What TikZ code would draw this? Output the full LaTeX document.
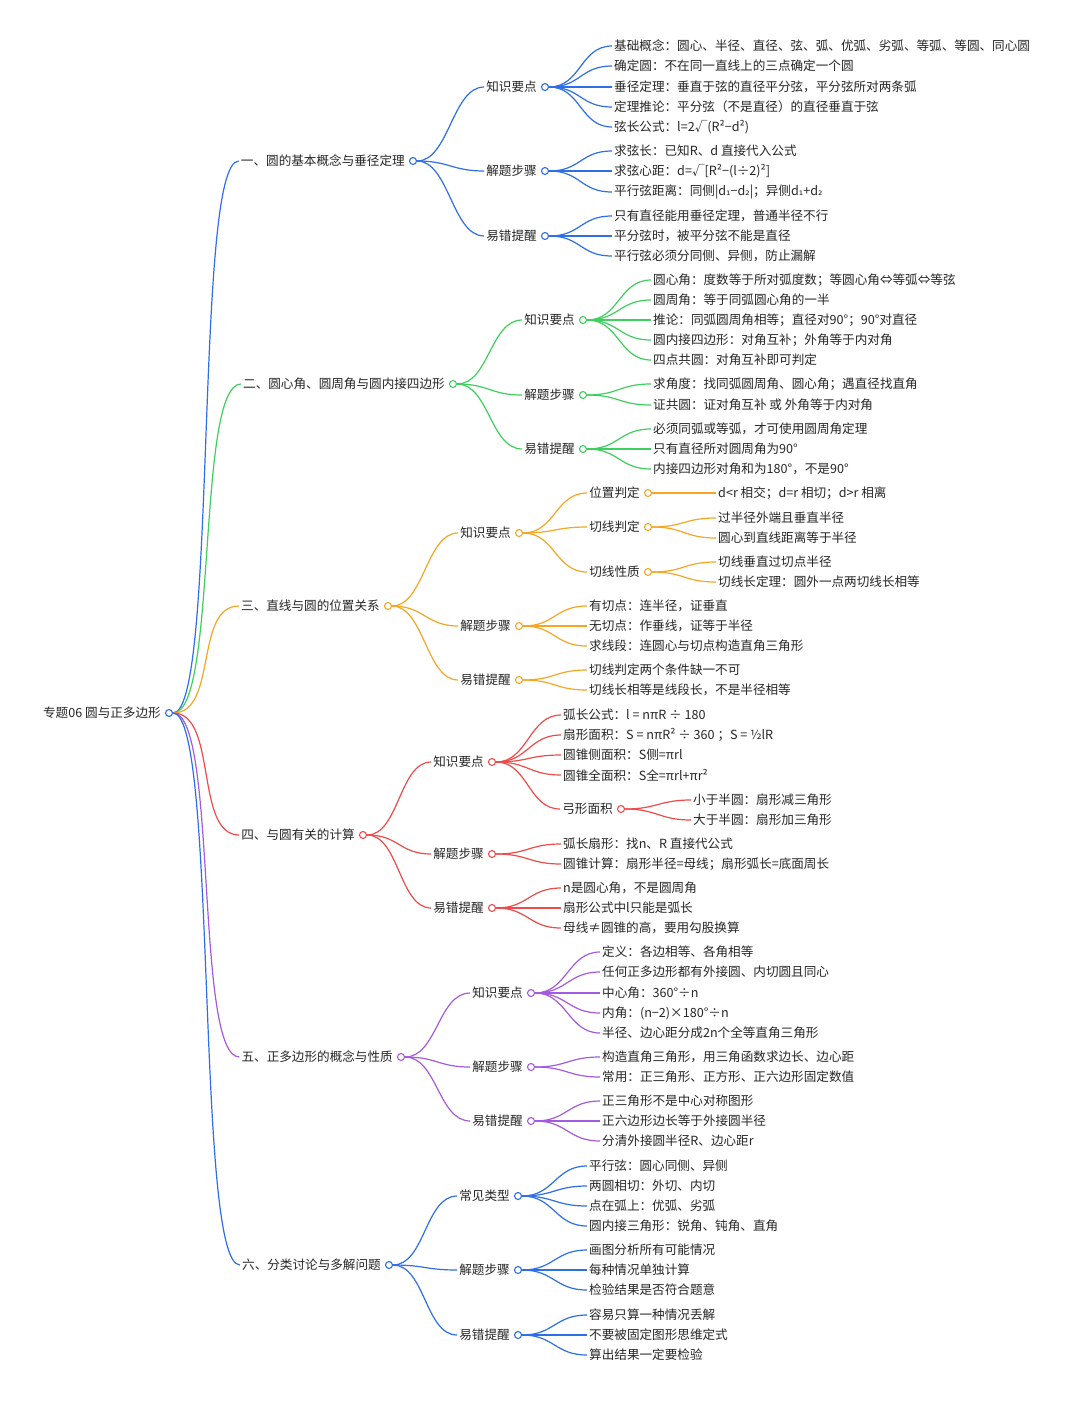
\documentclass[tikz,border=0pt]{standalone}
\usepackage{fontspec}
\setmainfont{Noto Sans CJK SC}
\newfontfamily\dvs{DejaVu Sans}
\newcommand\subone{{\dvs\fontsize{11}{13}\selectfont ₁}}
\newcommand\subtwo{{\dvs\fontsize{11}{13}\selectfont ₂}}
\definecolor{cb}{HTML}{2F6FE6}
\definecolor{cg}{HTML}{3FCF5E}
\definecolor{co}{HTML}{F5A623}
\definecolor{cr}{HTML}{EE4B4B}
\definecolor{cp}{HTML}{A35BE0}
\tikzset{
 txt/.style={anchor=west,inner sep=2pt,font=\fontsize{12.6}{14}\selectfont,text=black!85},
 dot/.style={circle,fill=white,line width=1.1pt,minimum size=7pt,inner sep=0pt},
 wire/.style={line width=1.2pt}
}
\newcommand\hub[5]{\node[dot,draw=#2] (#1) at (#3,#4) {};
 \node[txt,anchor=east] (#1t) at ([xshift=-2pt]#1.west) {#5};}
\newcommand\lf[4]{\node[txt] (#1) at (#2,#3) {#4};}
\newcommand\cn[4][32]{\draw[#2,wire] (#3.east) .. controls +(#1,0) and +(-#1,0) .. (#4.west);}
\begin{document}
\begin{tikzpicture}[x=1pt,y=-1pt]
\useasboundingbox (0,0) rectangle (1080,1402);
\fill[white] (0,0) rectangle (1080,1402);
% root
\hub{r}{cb}{169}{713}{专题06 圆与正多边形}
% level 1
\hub{a}{cb}{413}{161}{一、圆的基本概念与垂径定理}
\hub{b}{cg}{453}{384}{二、圆心角、圆周角与圆内接四边形}
\hub{c}{co}{388}{606}{三、直线与圆的位置关系}
\hub{d}{cr}{363}{835}{四、与圆有关的计算}
\hub{e}{cp}{401}{1057}{五、正多边形的概念与性质}
\hub{f}{cb}{389}{1265}{六、分类讨论与多解问题}
\cn[45]{cb}{r}{at}\cn[45]{cg}{r}{bt}\cn[45]{co}{r}{ct}
\cn[45]{cr}{r}{dt}\cn[45]{cp}{r}{et}\cn[45]{cb}{r}{ft}
% branch 1
\hub{a1}{cb}{545}{87}{知识要点}\hub{a2}{cb}{545}{171}{解题步骤}\hub{a3}{cb}{545}{236}{易错提醒}
\cn{cb}{a}{a1t}\cn{cb}{a}{a2t}\cn{cb}{a}{a3t}
\lf{a11}{612}{46}{基础概念：圆心、半径、直径、弦、弧、优弧、劣弧、等弧、等圆、同心圆}
\lf{a12}{612}{66}{确定圆：不在同一直线上的三点确定一个圆}
\lf{a13}{612}{87}{垂径定理：垂直于弦的直径平分弦，平分弦所对两条弧}
\lf{a14}{612}{107}{定理推论：平分弦（不是直径）的直径垂直于弦}
\lf{a15}{612}{127}{弦长公式：l=2√(R²−d²)}
\lf{a21}{612}{151}{求弦长：已知R、d 直接代入公式}
\lf{a22}{612}{171}{求弦心距：d=√[R²−(l÷2)²]}
\lf{a23}{612}{192}{平行弦距离：同侧|d\subone−d\subtwo|；异侧d\subone+d\subtwo}
\lf{a31}{612}{216}{只有直径能用垂径定理，普通半径不行}
\lf{a32}{612}{236}{平分弦时，被平分弦不能是直径}
\lf{a33}{612}{256}{平行弦必须分同侧、异侧，防止漏解}
\foreach \i in {1,...,5}{\cn{cb}{a1}{a1\i}}
\foreach \i in {1,2,3}{\cn{cb}{a2}{a2\i}\cn{cb}{a3}{a3\i}}
% branch 2
\hub{b1}{cg}{583}{320}{知识要点}\hub{b2}{cg}{583}{395}{解题步骤}\hub{b3}{cg}{583}{449}{易错提醒}
\cn{cg}{b}{b1t}\cn{cg}{b}{b2t}\cn{cg}{b}{b3t}
\lf{b11}{651}{280}{圆心角：度数等于所对弧度数；等圆心角⇔等弧⇔等弦}
\lf{b12}{651}{300}{圆周角：等于同弧圆心角的一半}
\lf{b13}{651}{320}{推论：同弧圆周角相等；直径对90°；90°对直径}
\lf{b14}{651}{340}{圆内接四边形：对角互补；外角等于内对角}
\lf{b15}{651}{360}{四点共圆：对角互补即可判定}
\lf{b21}{651}{384}{求角度：找同弧圆周角、圆心角；遇直径找直角}
\lf{b22}{651}{405}{证共圆：证对角互补 或 外角等于内对角}
\lf{b31}{651}{429}{必须同弧或等弧，才可使用圆周角定理}
\lf{b32}{651}{449}{只有直径所对圆周角为90°}
\lf{b33}{651}{469}{内接四边形对角和为180°，不是90°}
\foreach \i in {1,...,5}{\cn{cg}{b1}{b1\i}}
\foreach \i in {1,2}{\cn{cg}{b2}{b2\i}}
\foreach \i in {1,2,3}{\cn{cg}{b3}{b3\i}}
% branch 3
\hub{c1}{co}{519}{533}{知识要点}\hub{c2}{co}{519}{626}{解题步骤}\hub{c3}{co}{519}{680}{易错提醒}
\cn{co}{c}{c1t}\cn{co}{c}{c2t}\cn{co}{c}{c3t}
\hub{c11}{co}{648}{493}{位置判定}\hub{c12}{co}{648}{527}{切线判定}\hub{c13}{co}{648}{572}{切线性质}
\cn{co}{c1}{c11t}\cn{co}{c1}{c12t}\cn{co}{c1}{c13t}
\lf{c111}{716}{493}{d<r 相交；d=r 相切；d>r 相离}
\lf{c121}{716}{518}{过半径外端且垂直半径}
\lf{c122}{716}{538}{圆心到直线距离等于半径}
\lf{c131}{716}{562}{切线垂直过切点半径}
\lf{c132}{716}{582}{切线长定理：圆外一点两切线长相等}
\cn{co}{c11}{c111}\cn{co}{c12}{c121}\cn{co}{c12}{c122}\cn{co}{c13}{c131}\cn{co}{c13}{c132}
\lf{c21}{587}{606}{有切点：连半径，证垂直}
\lf{c22}{587}{626}{无切点：作垂线，证等于半径}
\lf{c23}{587}{646}{求线段：连圆心与切点构造直角三角形}
\lf{c31}{587}{670}{切线判定两个条件缺一不可}
\lf{c32}{587}{690}{切线长相等是线段长，不是半径相等}
\foreach \i in {1,2,3}{\cn{co}{c2}{c2\i}}
\foreach \i in {1,2}{\cn{co}{c3}{c3\i}}
% branch 4
\hub{d1}{cr}{492}{762}{知识要点}\hub{d2}{cr}{492}{854}{解题步骤}\hub{d3}{cr}{492}{908}{易错提醒}
\cn{cr}{d}{d1t}\cn{cr}{d}{d2t}\cn{cr}{d}{d3t}
\lf{d11}{561}{715}{弧长公式：l = nπR ÷ 180}
\lf{d12}{561}{735}{扇形面积：S = nπR² ÷ 360 ；S = ½lR}
\lf{d13}{561}{755}{圆锥侧面积：S侧=πrl}
\lf{d14}{561}{775}{圆锥全面积：S全=πrl+πr²}
\hub{d15}{cr}{621}{809}{弓形面积}
\foreach \i in {1,...,4}{\cn{cr}{d1}{d1\i}}
\cn{cr}{d1}{d15t}
\lf{d151}{691}{800}{小于半圆：扇形减三角形}
\lf{d152}{691}{820}{大于半圆：扇形加三角形}
\cn{cr}{d15}{d151}\cn{cr}{d15}{d152}
\lf{d21}{561}{844}{弧长扇形：找n、R 直接代公式}
\lf{d22}{561}{864}{圆锥计算：扇形半径=母线；扇形弧长=底面周长}
\lf{d31}{561}{888}{n是圆心角，不是圆周角}
\lf{d32}{561}{908}{扇形公式中l只能是弧长}
\lf{d33}{561}{928}{母线≠圆锥的高，要用勾股换算}
\foreach \i in {1,2}{\cn{cr}{d2}{d2\i}}
\foreach \i in {1,2,3}{\cn{cr}{d3}{d3\i}}
% branch 5
\hub{e1}{cp}{531}{993}{知识要点}\hub{e2}{cp}{531}{1067}{解题步骤}\hub{e3}{cp}{531}{1121}{易错提醒}
\cn{cp}{e}{e1t}\cn{cp}{e}{e2t}\cn{cp}{e}{e3t}
\lf{e11}{600}{952}{定义：各边相等、各角相等}
\lf{e12}{600}{972}{任何正多边形都有外接圆、内切圆且同心}
\lf{e13}{600}{993}{中心角：360°÷n}
\lf{e14}{600}{1013}{内角：(n−2)×180°÷n}
\lf{e15}{600}{1033}{半径、边心距分成2n个全等直角三角形}
\lf{e21}{600}{1057}{构造直角三角形，用三角函数求边长、边心距}
\lf{e22}{600}{1077}{常用：正三角形、正方形、正六边形固定数值}
\lf{e31}{600}{1101}{正三角形不是中心对称图形}
\lf{e32}{600}{1121}{正六边形边长等于外接圆半径}
\lf{e33}{600}{1141}{分清外接圆半径R、边心距r}
\foreach \i in {1,...,5}{\cn{cp}{e1}{e1\i}}
\foreach \i in {1,2}{\cn{cp}{e2}{e2\i}}
\foreach \i in {1,2,3}{\cn{cp}{e3}{e3\i}}
% branch 6
\hub{f1}{cb}{518}{1196}{常见类型}\hub{f2}{cb}{518}{1270}{解题步骤}\hub{f3}{cb}{518}{1335}{易错提醒}
\cn{cb}{f}{f1t}\cn{cb}{f}{f2t}\cn{cb}{f}{f3t}
\lf{f11}{587}{1166}{平行弦：圆心同侧、异侧}
\lf{f12}{587}{1186}{两圆相切：外切、内切}
\lf{f13}{587}{1206}{点在弧上：优弧、劣弧}
\lf{f14}{587}{1226}{圆内接三角形：锐角、钝角、直角}
\lf{f21}{587}{1250}{画图分析所有可能情况}
\lf{f22}{587}{1270}{每种情况单独计算}
\lf{f23}{587}{1290}{检验结果是否符合题意}
\lf{f31}{587}{1315}{容易只算一种情况丢解}
\lf{f32}{587}{1335}{不要被固定图形思维定式}
\lf{f33}{587}{1355}{算出结果一定要检验}
\foreach \i in {1,...,4}{\cn{cb}{f1}{f1\i}}
\foreach \i in {1,2,3}{\cn{cb}{f2}{f2\i}\cn{cb}{f3}{f3\i}}
\end{tikzpicture}
\end{document}
